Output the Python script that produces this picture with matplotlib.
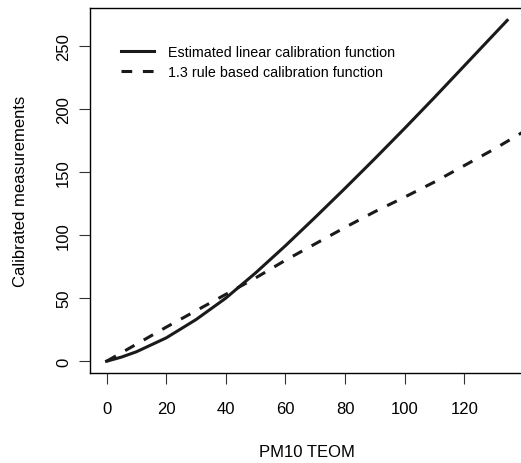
import matplotlib
matplotlib.use("Agg")
import matplotlib.pyplot as plt

plt.rcParams['font.family'] = ['Liberation Sans', 'DejaVu Sans']

pm10_linear = [0, 5, 10, 20, 30, 40, 50, 60, 70, 80, 90, 100, 110, 120, 130, 134.4]
calib_linear = [0, 3.3, 7.5, 18.5, 33, 50, 70, 91.5, 114, 137, 160.5, 184.5, 209, 234, 259, 270]

pm10_rule = [0, 10, 20, 30, 40, 50, 60, 70, 80, 90, 100, 110, 120, 130, 140]
calib_rule = [0, 13.5, 27, 40, 53, 66, 80, 93, 106, 118.5, 130, 142, 155, 168, 182]

x_ticks = [0, 20, 40, 60, 80, 100, 120]
y_ticks = [0, 50, 100, 150, 200, 250]

fig = plt.figure(figsize=(5.21, 4.64), dpi=100)
ax = fig.add_axes([0.1737, 0.194, 0.8313, 0.7866])

ax.plot(pm10_linear, calib_linear, color='#1a1a1a', lw=2.2,
        label='Estimated linear calibration function')
ax.plot(pm10_rule, calib_rule, color='#1a1a1a', lw=2.2, linestyle=(0, (3.5, 3.5)),
        label='1.3 rule based calibration function')

ax.set_xlim(-5.4, 139.9)
ax.set_ylim(-9.3, 279.8)
ax.set_xticks(x_ticks)
ax.set_yticks(y_ticks)
ax.set_yticklabels([str(v) for v in y_ticks], rotation=90, va='center')
ax.tick_params(length=8, width=0.8, labelsize=12, color='#333333')
ax.tick_params(axis='x', pad=12)
ax.tick_params(axis='y', pad=6)

for s in ax.spines.values():
    s.set_linewidth(1.0)

ax.set_xlabel('PM10 TEOM', fontsize=12, labelpad=20)
ax.set_ylabel('Calibrated measurements', fontsize=12, labelpad=20)

ax.legend(loc='upper left', bbox_to_anchor=(0.04, 0.935), frameon=False,
          fontsize=10.3, handlelength=2.3, handletextpad=1.0, labelspacing=0.45)

fig.savefig('out.png', dpi=100)
